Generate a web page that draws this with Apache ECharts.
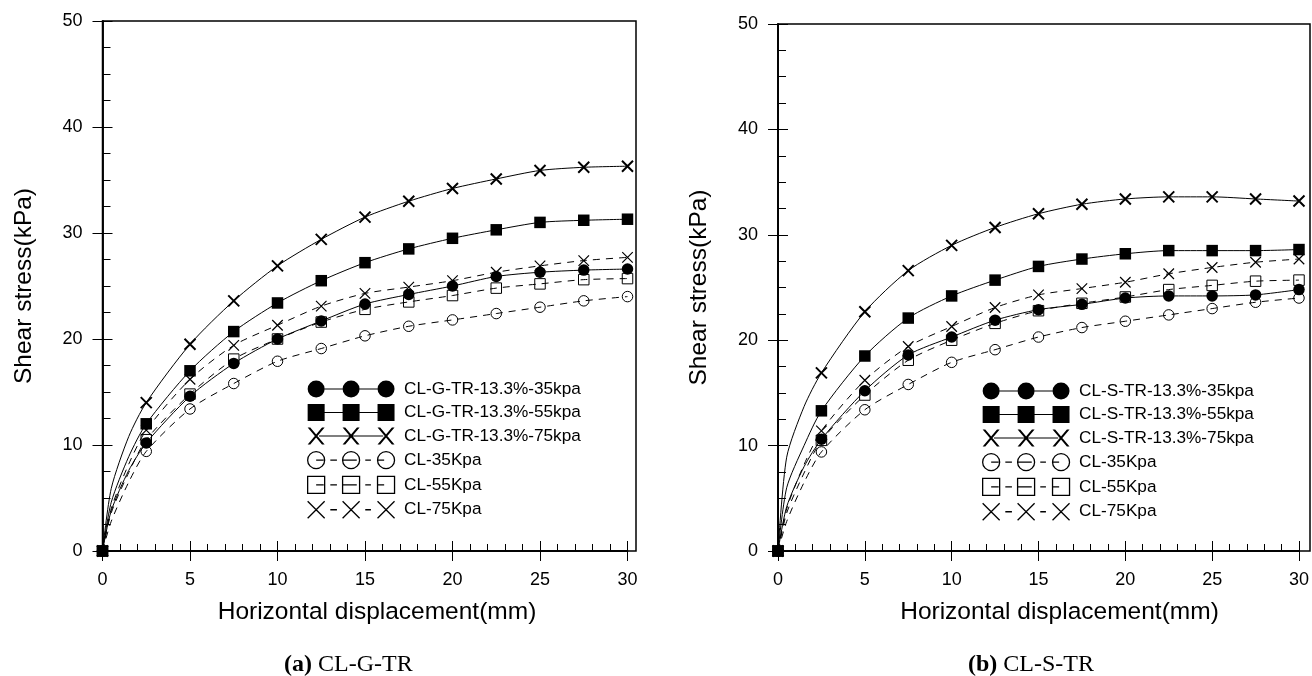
<!DOCTYPE html>
<html>
<head>
<meta charset="utf-8">
<script src="https://cdn.jsdelivr.net/npm/echarts@6/dist/echarts.min.js"></script>
<style>
html,body{margin:0;padding:0;background:#fff;}
#chart{width:1312px;height:676px;}
</style>
</head>
<body>
<div id="chart"></div>
<script>
// ---- data ----
const displacement = [0, 0.5, 1.5, 2.5, 5, 7.5, 10, 12.5, 15, 17.5, 20, 22.5, 25, 27.5, 30];

// (a) CL-G-TR
const gtr35 = [0, 3.8, 7.6, 10.2, 14.6, 17.7, 20.0, 21.7, 23.3, 24.2, 25.0, 25.9, 26.3, 26.5, 26.6];
const gtr55 = [0, 4.6, 8.9, 12.0, 17.0, 20.7, 23.4, 25.5, 27.2, 28.5, 29.5, 30.3, 31.0, 31.2, 31.3];
const gtr75 = [0, 5.9, 10.8, 14.0, 19.5, 23.6, 26.9, 29.4, 31.5, 33.0, 34.2, 35.1, 35.9, 36.2, 36.3];

// (b) CL-S-TR
const str35 = [0, 4.2, 8.0, 10.6, 15.2, 18.6, 20.3, 21.9, 22.9, 23.4, 24.0, 24.2, 24.2, 24.3, 24.8];
const str55 = [0, 6.0, 10.0, 13.3, 18.5, 22.1, 24.2, 25.7, 27.0, 27.7, 28.2, 28.5, 28.5, 28.5, 28.6];
const str75 = [0, 8.9, 13.7, 16.9, 22.7, 26.6, 29.0, 30.7, 32.0, 32.9, 33.4, 33.6, 33.6, 33.4, 33.2];

// control clay (same in both panels)
const cl35 = [0, 2.8, 6.5, 9.4, 13.4, 15.8, 17.9, 19.1, 20.3, 21.2, 21.8, 22.4, 23.0, 23.6, 24.0];
const cl55 = [0, 3.6, 7.4, 10.5, 14.8, 18.1, 20.0, 21.6, 22.8, 23.5, 24.1, 24.8, 25.2, 25.6, 25.7];
const cl75 = [0, 4.0, 8.2, 11.4, 16.2, 19.4, 21.3, 23.1, 24.3, 24.9, 25.5, 26.3, 26.9, 27.4, 27.7];

const namesA = ['CL-G-TR-13.3%-35kpa', 'CL-G-TR-13.3%-55kpa', 'CL-G-TR-13.3%-75kpa', 'CL-35Kpa', 'CL-55Kpa', 'CL-75Kpa'];
const namesB = ['CL-S-TR-13.3%-35kpa', 'CL-S-TR-13.3%-55kpa', 'CL-S-TR-13.3%-75kpa', 'CL-35Kpa', 'CL-55Kpa', 'CL-75Kpa'];
const yTicks = [0, 10, 20, 30, 40, 50];
const xTicks = [0, 5, 10, 15, 20, 25, 30];
const xLabel = 'Horizontal displacement(mm)';
const yLabel = 'Shear stress(kPa)';
const captions = [['(a)', ' CL-G-TR'], ['(b)', ' CL-S-TR']];

// ---- styling ----
const FONT = 'Liberation Sans, Arial, sans-serif';
const SERIF = 'Liberation Serif, Times New Roman, serif';
const X_PATH = 'path://M0,0L10,10M10,0L0,10';

const kinds = ['dot', 'sq', 'x', 'odot', 'osq', 'ox'];

function markerStyle(kind) {
  switch (kind) {
    case 'dot': return { symbol: 'circle', symbolSize: 11.5, itemStyle: { color: '#000', borderWidth: 0 }, dash: 'solid' };
    case 'sq': return { symbol: 'rect', symbolSize: 11.5, itemStyle: { color: '#000', borderWidth: 0 }, dash: 'solid' };
    case 'x': return { symbol: X_PATH, symbolSize: 11, itemStyle: { color: 'rgba(0,0,0,0)', borderColor: '#000', borderWidth: 2 }, dash: 'solid' };
    case 'odot': return { symbol: 'circle', symbolSize: 10.5, itemStyle: { color: 'rgba(255,255,255,0)', borderColor: '#000', borderWidth: 1 }, dash: [7, 6] };
    case 'osq': return { symbol: 'rect', symbolSize: 10.5, itemStyle: { color: 'rgba(255,255,255,0)', borderColor: '#000', borderWidth: 1 }, dash: [7, 6] };
    case 'ox': return { symbol: X_PATH, symbolSize: 10.5, itemStyle: { color: 'rgba(0,0,0,0)', borderColor: '#000', borderWidth: 1.2 }, dash: [7, 6] };
  }
}

function makeSeries(name, ys, axisIdx, kind) {
  const m = markerStyle(kind);
  return {
    name: name,
    type: 'line',
    xAxisIndex: axisIdx,
    yAxisIndex: axisIdx,
    smooth: 0.25,
    symbol: m.symbol,
    symbolSize: m.symbolSize,
    showAllSymbol: true,
    itemStyle: m.itemStyle,
    lineStyle: { color: '#000', width: 1, type: m.dash },
    z: kind === 'sq' ? 4 : 2,
    data: displacement.map((x, i) => {
      const item = { value: [x, ys[i]] };
      if (x % 2.5 !== 0) item.symbol = 'none';
      return item;
    })
  };
}

// legend icon paths (box 92 x 18)
function circ(cx) { return `M${cx - 9},9a9,9 0 1,1 18,0a9,9 0 1,1 -18,0Z`; }
function sqr(x0) { return `M${x0},0L${x0 + 18},0L${x0 + 18},18L${x0},18Z`; }
function xf(cx) {
  return `M${cx - 9},0L${cx - 6.2},0L${cx + 9},18L${cx + 6.2},18Z M${cx + 6.2},0L${cx + 9},0L${cx - 6.2},18L${cx - 9},18Z`;
}
function xs(cx) { return `M${cx - 9},0L${cx + 9},18M${cx + 9},0L${cx - 9},18`; }
const solidLink = 'M18,8.5L37,8.5L37,9.5L18,9.5Z M55,8.5L74,8.5L74,9.5L55,9.5Z';
const xLink = 'M12,8.5L80,8.5L80,9.5L12,9.5Z';
const dashLink = 'M9,9L17,9M24,9L31,9M37,9L52,9M61,9L67,9M74,9L81,9';
const icons = {
  dot: 'path://' + circ(9) + circ(46) + circ(83) + solidLink,
  sq: 'path://' + sqr(0) + sqr(37) + sqr(74) + solidLink,
  x: 'path://' + xf(9) + xf(46) + xf(83) + xLink,
  odot: 'path://' + circ(9) + circ(46) + circ(83) + dashLink,
  osq: 'path://' + sqr(0) + sqr(37) + sqr(74) + dashLink,
  ox: 'path://' + xs(9) + xs(46) + xs(83) + 'M24,9L31,9M61,9L67,9'
};
function legendItem(name, kind) {
  const filled = kind === 'dot' || kind === 'sq' || kind === 'x';
  return {
    name: name,
    icon: icons[kind],
    itemStyle: filled
      ? { color: '#000', borderWidth: 0 }
      : { color: 'rgba(0,0,0,0)', borderColor: '#000', borderWidth: 1.3 }
  };
}

function mainX(grid, shift) {
  return {
    type: 'value', gridIndex: grid, position: 'bottom', min: 0, max: 30, interval: 5,
    axisLine: { show: true, onZero: false, lineStyle: { color: '#000', width: 1.5 } },
    axisTick: { show: true, inside: false, length: 10, lineStyle: { color: '#000', width: 1 } },
    minorTick: { show: false },
    axisLabel: { show: true, fontSize: 18, margin: 20, color: '#000', fontFamily: FONT,
      formatter: v => (xTicks.indexOf(v) >= 0 ? String(v) : '') },
    splitLine: { show: false },
    name: xLabel, nameLocation: 'middle', nameGap: 49,
    nameTextStyle: { fontSize: 24.5, color: '#000', fontFamily: FONT, padding: [0, 0, 0, shift] }
  };
}
function innerX(grid) {
  return {
    type: 'value', gridIndex: grid, position: 'bottom', min: 0, max: 30, interval: 5,
    axisLine: { show: true, onZero: false, lineStyle: { color: '#000', width: 1.5 } },
    axisTick: { show: true, inside: true, length: 10, lineStyle: { color: '#000', width: 1 } },
    minorTick: { show: true, splitNumber: 5, length: 7, lineStyle: { color: '#000', width: 1 } },
    axisLabel: { show: false },
    splitLine: { show: false }
  };
}
function mainY(grid) {
  return {
    type: 'value', gridIndex: grid, position: 'left', min: 0, max: 50, interval: 10,
    axisLine: { show: true, onZero: false, lineStyle: { color: '#000', width: 1.5 } },
    axisTick: { show: true, inside: false, length: 10, lineStyle: { color: '#000', width: 1 } },
    minorTick: { show: false },
    axisLabel: { show: true, fontSize: 18, margin: 20, color: '#000', fontFamily: FONT,
      formatter: v => (yTicks.indexOf(v) >= 0 ? String(v) : '') },
    splitLine: { show: false },
    name: yLabel, nameLocation: 'middle', nameGap: 66,
    nameTextStyle: { fontSize: 24.5, color: '#000', fontFamily: FONT }
  };
}
function innerY(grid) {
  return {
    type: 'value', gridIndex: grid, position: 'left', min: 0, max: 50, interval: 10,
    axisLine: { show: true, onZero: false, lineStyle: { color: '#000', width: 1.5 } },
    axisTick: { show: true, inside: true, length: 10, lineStyle: { color: '#000', width: 1 } },
    minorTick: { show: true, splitNumber: 4, length: 8, lineStyle: { color: '#000', width: 1 } },
    axisLabel: { show: false },
    splitLine: { show: false }
  };
}
function hiddenAxis(grid) {
  return { type: 'value', gridIndex: grid, show: false, min: 0, max: 1, splitLine: { show: false } };
}

const seriesA = [gtr35, gtr55, gtr75, cl35, cl55, cl75];
const seriesB = [str35, str55, str75, cl35, cl55, cl75];

const series = [];
seriesA.forEach((ys, i) => series.push(makeSeries(namesA[i], ys, 0, kinds[i])));
seriesB.forEach((ys, i) => series.push(makeSeries(namesB[i], ys, 2, kinds[i])));

function legendCfg(names, left, top) {
  return {
    orient: 'vertical', left: left, top: top, padding: 0,
    itemWidth: 92, itemHeight: 17, itemGap: 6.5,
    selectedMode: false,
    textStyle: { fontSize: 17.2, color: '#000', fontFamily: FONT, padding: [0, 0, 0, 2] },
    data: names.map((n, i) => legendItem(n, kinds[i]))
  };
}

function caption(c, left) {
  return {
    text: `{b|${c[0]}}{t|${c[1]}}`,
    left: left, top: 653, padding: 0,
    textStyle: {
      fontSize: 24, color: '#000', fontFamily: SERIF, fontWeight: 'normal',
      rich: {
        b: { fontSize: 24, fontWeight: 'bold', color: '#000', fontFamily: SERIF },
        t: { fontSize: 24, fontWeight: 'normal', color: '#000', fontFamily: SERIF }
      }
    }
  };
}

const option = {
  animation: false,
  backgroundColor: '#fff',
  title: [caption(captions[0], 284), caption(captions[1], 968)],
  grid: [
    { left: 102.5, top: 21, width: 525, height: 530, show: false },
    { left: 102.5, top: 21, width: 533.5, height: 530, show: true, borderColor: '#000', borderWidth: 1.5, backgroundColor: 'rgba(0,0,0,0)' },
    { left: 778, top: 24, width: 523.5, height: 527, show: false },
    { left: 778, top: 24, width: 532, height: 527, show: true, borderColor: '#000', borderWidth: 1.5, backgroundColor: 'rgba(0,0,0,0)' }
  ],
  xAxis: [mainX(0, 24), innerX(0), mainX(2, 42), innerX(2), hiddenAxis(1), hiddenAxis(3)],
  yAxis: [mainY(0), innerY(0), mainY(2), innerY(2), hiddenAxis(1), hiddenAxis(3)],
  legend: [legendCfg(namesA, 307, 380.5), legendCfg(namesB, 982, 382.5)],
  series: series
};

const chart = echarts.init(document.getElementById('chart'), null, { renderer: 'canvas' });
chart.setOption(option);
</script>
</body>
</html>
